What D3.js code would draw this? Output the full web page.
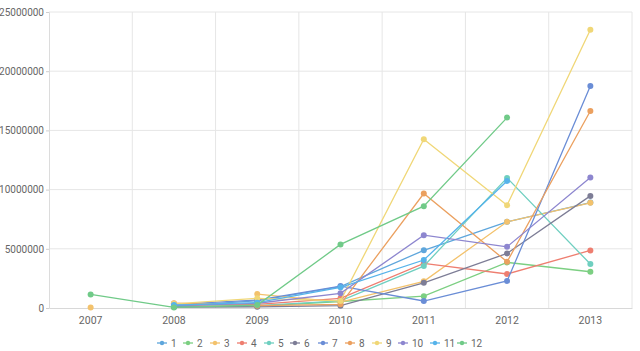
<!DOCTYPE html>
<html>
<head>
<meta charset="utf-8">
<script src="https://cdn.jsdelivr.net/npm/d3@7"></script>
<style>
  body { margin: 0; background: #fff; }
  text { font-family: Roboto, "Liberation Sans", sans-serif; }
</style>
</head>
<body>
<script>
// 折线图: 12 条系列, 2007-2013

const years = ['2007', '2008', '2009', '2010', '2011', '2012', '2013']
const names = ['1', '2', '3', '4', '5', '6', '7', '8', '9', '10', '11', '12']
const colors = ['#5ea6dc', '#7ccf82', '#f3c26c', '#ee7e70', '#6fcfc0', '#7d7d96',
  '#6a8dd6', '#eba05f', '#f0d777', '#8d86cf', '#56b3ea', '#70ca88']
const yTicks = [0, 5000000, 10000000, 15000000, 20000000, 25000000]

const s1 = [null, 150000, 600000, 1800000, 4870000, 7280000, 8900000]
const s2 = [null, 100000, 150000, 550000, 1000000, 3850000, 3060000]
const s3 = [50000, null, 1180000, 500000, 2250000, 7280000, 8880000]
const s4 = [null, 200000, 300000, 820000, 3770000, 2870000, 4860000]
const s5 = [null, 120000, 200000, 600000, 3540000, 10990000, 3710000]
const s6 = [null, 80000, 100000, 200000, 2130000, 4610000, 9470000]
const s7 = [null, 300000, 670000, 1850000, 590000, 2280000, 18740000]
const s8 = [null, 400000, 200000, 310000, 9670000, 3900000, 16640000]
const s9 = [null, 350000, 820000, 600000, 14250000, 8680000, 23500000]
const s10 = [null, 200000, 400000, 1240000, 6150000, 5170000, 11020000]
const s11 = [null, 250000, 450000, 1750000, 4050000, 10730000, null]
const s12 = [1150000, 50000, 250000, 5370000, 8600000, 16080000, null]
const allSeries = [s1, s2, s3, s4, s5, s6, s7, s8, s9, s10, s11, s12]

const W = 640
const H = 351
const padL = 49
const padR = 632
const padT = 12
const padB = 308

const svg = d3.select('body').append('svg')
  .attr('width', W)
  .attr('height', H)

const x = d3.scaleBand().domain(years).range([padL, padR])
const y = d3.scaleLinear().domain([0, 25000000]).range([padB, padT])

// 网格线
svg.append('g').selectAll('line')
  .data(yTicks.slice(1))
  .enter().append('line')
  .attr('x1', padL).attr('x2', padR)
  .attr('y1', (d) => y(d)).attr('y2', (d) => y(d))
  .attr('stroke', '#e6e6e6')
svg.append('g').selectAll('line')
  .data(years)
  .enter().append('line')
  .attr('x1', (d) => x(d) + x.step())
  .attr('x2', (d) => x(d) + x.step())
  .attr('y1', padT).attr('y2', padB)
  .attr('stroke', '#e6e6e6')

// y 轴
const yAxis = svg.append('g')
  .attr('transform', `translate(${padL},0)`)
  .call(d3.axisLeft(y).tickValues(yTicks).tickSize(3).tickPadding(2).tickFormat(d3.format('d')))
yAxis.select('.domain').attr('stroke', '#dcdcdc')
yAxis.selectAll('line').attr('stroke', '#cfcfcf')
yAxis.selectAll('text').attr('fill', '#666').attr('font-size', 10)

// x 轴
const xAxis = svg.append('g')
  .attr('transform', `translate(0,${padB})`)
  .call(d3.axisBottom(x).tickSize(0).tickPadding(9))
xAxis.select('.domain').attr('stroke', '#d8d8d8')
xAxis.selectAll('text').attr('fill', '#666').attr('font-size', 10.5)

// 折线
const cx = (i) => x(years[i]) + x.bandwidth() / 2
const line = d3.line()
  .defined((d) => d !== null)
  .x((d, i) => cx(i))
  .y((d) => y(d))

allSeries.forEach((s, k) => {
  const g = svg.append('g')
  g.append('path')
    .attr('d', line(s))
    .attr('fill', 'none')
    .attr('stroke', colors[k])
    .attr('stroke-width', 1.3)
  g.selectAll('circle')
    .data(s.map((v, i) => ({ v, i })).filter((d) => d.v !== null))
    .enter().append('circle')
    .attr('cx', (d) => cx(d.i))
    .attr('cy', (d) => y(d.v))
    .attr('r', 3)
    .attr('fill', colors[k])
})

// 图例
const legendX = [162, 188, 215, 242, 269, 295, 323, 350, 377, 403, 435, 462]
const lg = svg.append('g').attr('transform', 'translate(0,343)')
const item = lg.selectAll('g')
  .data(names)
  .enter().append('g')
  .attr('transform', (d, i) => `translate(${legendX[i]},0)`)
item.append('line')
  .attr('x1', -5).attr('x2', 5)
  .attr('stroke', (d, i) => colors[i])
  .attr('stroke-width', 1.3)
item.append('circle')
  .attr('r', 2.2)
  .attr('fill', (d, i) => colors[i])
item.append('text')
  .attr('x', 9)
  .attr('dy', '0.35em')
  .attr('font-size', 10)
  .attr('fill', '#666')
  .text((d) => d)
</script>
</body>
</html>
